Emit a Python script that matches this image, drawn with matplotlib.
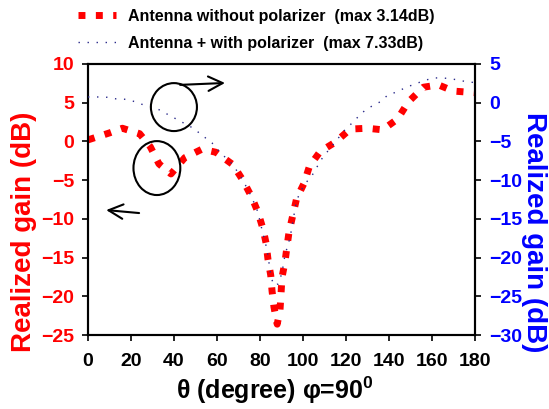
"""realized gain vs theta, antenna with and without polarizer (phi = 90 deg).

red thick dotted = antenna alone, on the left axis.
navy fine dotted = antenna + polarizer, on the right axis (offset by 5 dB).
"""
import matplotlib
matplotlib.use("Agg")
import matplotlib.pyplot as plt
from matplotlib.patches import Ellipse

plt.rcParams["font.family"] = ["Liberation Sans", "DejaVu Sans"]
plt.rcParams["font.weight"] = "bold"
plt.rcParams["mathtext.fontset"] = "custom"
plt.rcParams["mathtext.bf"] = "Liberation Sans:bold"

# antenna without polarizer (left axis, dB)
THETA_A = [0, 10, 16, 24, 29, 33, 38.6, 45, 53, 59.5, 67.4, 72, 76, 79,
           81.4, 82.8, 83.7, 85, 85.6, 86.5, 88, 89.3, 89.8, 90.2, 91.6,
           92.6, 93.5, 97, 100.5, 103, 108, 115, 122, 130, 137, 144, 149,
           156, 163, 170, 180]
GAIN_A = [0.2, 1.1, 1.7, 1.0, -0.7, -2.9, -4.2, -2.1, -1.0, -1.4, -3.0,
          -5.0, -7.1, -9.1, -11.3, -13.1, -15.2, -17.3, -19.3, -21.4, -23.6,
          -21.8, -19.6, -17.6, -15.6, -13.5, -11.7, -7.4, -5.4, -3.2, -1.3,
          -0.1, 1.6, 1.7, 1.5, 2.9, 5.1, 7.0, 7.3, 6.5, 6.3]

# antenna + polarizer (right axis, dB)
THETA_B = [0, 5, 9, 13, 17, 21, 25, 29, 33, 37, 41, 45, 49, 53.5, 57.7,
           61.4, 67.4, 72, 76, 79, 81, 83.3, 84.2, 85.1, 86.5, 88.5, 90.2,
           91.6, 94, 97, 100.5, 104, 106.5, 109.3, 112.6, 119.5, 123.3,
           127.4, 131, 135.8, 139.5, 143.7, 148, 152, 155.8, 160.5, 164.7,
           168.8, 172.6, 176.3, 180]
GAIN_B = [0.74, 0.74, 0.7, 0.5, 0.45, 0.2, -0.2, -0.5, -0.9, -1.5, -2.1,
          -2.7, -3.3, -4.3, -5.2, -6.4, -8.0, -10.0, -12.1, -14.1, -16.5,
          -19.0, -20.7, -22.5, -23.6, -23.4, -22.0, -19.7, -17.4, -12.6,
          -10.6, -9.5, -8.3, -7.0, -5.9, -3.5, -2.5, -1.3, -0.6, 0.1, 1.0,
          1.4, 2.0, 2.4, 2.8, 3.2, 3.2, 3.1, 2.9, 2.7, 2.6]

LABEL_A = "Antenna without polarizer  (max 3.14dB)"
LABEL_B = "Antenna + with polarizer  (max 7.33dB)"

X_TICKS = list(range(0, 181, 20))
YL_TICKS = list(range(-25, 11, 5))
YR_TICKS = list(range(-30, 6, 5))

RED = "#ff0000"
BLUE = "#0000ff"
NAVY = "#2a2a8a"


def main():
    fig = plt.figure(figsize=(5.49, 4.09), dpi=100)
    ax = fig.add_axes([88 / 549, 74 / 409, 387 / 549, 271 / 409])
    ax2 = ax.twinx()

    la, = ax.plot(THETA_A, GAIN_A, color=RED, lw=5.0,
                  linestyle=(0, (1, 1.5)), dash_capstyle="butt",
                  label=LABEL_A, zorder=3)
    lb, = ax2.plot(THETA_B, GAIN_B, color=NAVY, lw=1.0,
                   linestyle=(0, (1, 5.5)), label=LABEL_B, zorder=4)

    ax.set_xlim(0, 180)
    ax.set_ylim(-25, 10)
    ax2.set_ylim(-30, 5)
    ax.set_xticks(X_TICKS)
    ax.set_yticks(YL_TICKS)
    ax2.set_yticks(YR_TICKS)

    for a in (ax, ax2):
        for sp in a.spines.values():
            sp.set_linewidth(1.5)
    ax.tick_params(axis="x", direction="out", length=4, width=1.2,
                   labelsize=14, pad=9, top=False)
    ax.tick_params(axis="y", direction="out", length=4, width=1.2,
                   labelsize=14, pad=6, labelcolor=RED)
    ax2.tick_params(axis="y", direction="out", length=4, width=1.2,
                    labelsize=14, pad=6, labelcolor=BLUE)

    ax.set_ylabel("Realized gain (dB)", color=RED, fontsize=20,
                  fontweight="bold", rotation=90, va="center", ha="center")
    ax.yaxis.set_label_coords(-0.165, 0.38)
    ax2.set_ylabel("Realized gain (dB)", color=BLUE, fontsize=20,
                   fontweight="bold", rotation=270, va="center", ha="center")
    ax2.yaxis.set_label_coords(1.152, 0.38)
    ax.set_xlabel(r"θ (degree) φ=90$^{\mathbf{0}}$", fontsize=18,
                  fontweight="bold", va="center", ha="center")
    ax.xaxis.set_label_coords(0.483, -0.205)

    # circles + arrows pointing each curve to its axis
    ax2.add_patch(Ellipse((0.222, 0.841), 0.119, 0.177, transform=ax.transAxes,
                          fill=False, lw=1.5, ec="black", zorder=5))
    ax2.add_patch(Ellipse((0.178, 0.616), 0.121, 0.199, transform=ax.transAxes,
                          fill=False, lw=1.5, ec="black", zorder=5))
    ax2.annotate("", xy=(0.354, 0.930), xytext=(0.238, 0.923),
                 xycoords="axes fraction", textcoords="axes fraction",
                 arrowprops=dict(arrowstyle="->", lw=1.5, color="black",
                                 mutation_scale=26, shrinkA=0, shrinkB=0))
    ax2.annotate("", xy=(0.047, 0.461), xytext=(0.132, 0.450),
                 xycoords="axes fraction", textcoords="axes fraction",
                 arrowprops=dict(arrowstyle="->", lw=1.5, color="black",
                                 mutation_scale=26, shrinkA=0, shrinkB=0))

    fig.legend(handles=[la, lb], loc="upper left",
               bbox_to_anchor=(78 / 549, 1 - 9 / 409), frameon=False,
               prop=dict(size=11.5, weight="bold"), handlelength=2.4,
               handletextpad=0.7, labelspacing=0.75, borderpad=0,
               borderaxespad=0)

    fig.savefig("out.png", dpi=100)
    plt.close(fig)


if __name__ == "__main__":
    main()
